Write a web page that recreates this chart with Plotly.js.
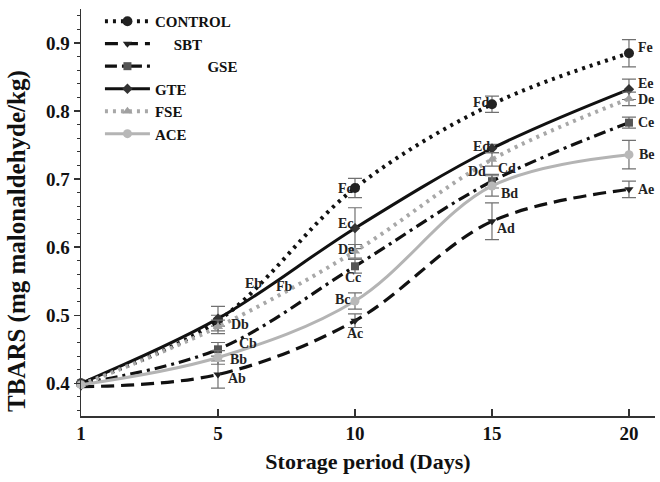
<!DOCTYPE html>
<html><head><meta charset="utf-8">
<script src="https://cdn.plot.ly/plotly-3.0.1.min.js"></script>
<style>html,body{margin:0;padding:0;background:#fff}#chart{width:660px;height:482px}</style>
</head><body><div id="chart"></div>
<script>
// Data
const days = ['1', '5', '10', '15', '20'];
const seriesNames = ['CONTROL', 'SBT', 'GSE', 'GTE', 'FSE', 'ACE'];
const control = [0.400, 0.492, 0.687, 0.810, 0.885];
const controlErr = [0, 0.008, 0.014, 0.012, 0.020];
const sbt = [0.395, 0.413, 0.492, 0.638, 0.685];
const sbtErr = [0, 0.020, 0.010, 0.027, 0.012];
const gse = [0.400, 0.450, 0.572, 0.697, 0.783];
const gseErr = [0, 0.010, 0.010, 0.010, 0.008];
const gte = [0.400, 0.495, 0.628, 0.745, 0.832];
const gteErr = [0, 0.018, 0.030, 0.006, 0.015];
const fse = [0.398, 0.483, 0.594, 0.729, 0.818];
const fseErr = [0, 0.010, 0.010, 0.010, 0.010];
const ace = [0.398, 0.438, 0.521, 0.690, 0.736];
const aceErr = [0, 0.010, 0.012, 0.015, 0.021];
// significance letters
const controlLetters = ['', 'Fb', 'Fc', 'Fd', 'Fe'];
const sbtLetters = ['', 'Ab', 'Ac', 'Ad', 'Ae'];
const gseLetters = ['', 'Cb', 'Cc', 'Cd', 'Ce'];
const gteLetters = ['', 'Eb', 'Ec', 'Ed', 'Ee'];
const fseLetters = ['', 'Db', 'De', 'Dd', 'De'];
const aceLetters = ['', 'Bb', 'Bc', 'Bd', 'Be'];
const xTitle = 'Storage period (Days)';
const yTitle = 'TBARS (mg malonaldehyde/kg)';

const FONT = 'Liberation Serif, Times New Roman, serif';
const errStyle = {type: 'data', visible: true, color: '#707070', thickness: 1.2, width: 7};

function tr(name, y, err, dash, color, width, symbol, mcolor, msize) {
  return {
    type: 'scatter', mode: 'lines+markers', name: name, x: days, y: y,
    error_y: Object.assign({array: err}, errStyle),
    line: {shape: 'spline', smoothing: 1, dash: dash, color: color, width: width},
    marker: {symbol: symbol, color: mcolor, size: msize},
    cliponaxis: false
  };
}
const nb = '\u00a0';
const data = [
  tr(seriesNames[0], control, controlErr, '3px,5px', '#111', 4, 'circle', '#222', 10),
  tr(nb.repeat(5) + seriesNames[1], sbt, sbtErr, '13px,7px', '#111', 3.2, 'triangle-down', '#222', 8),
  tr(nb.repeat(14) + seriesNames[2], gse, gseErr, '12px,5px,3px,5px', '#111', 3.2, 'square', '#555', 8),
  tr(seriesNames[3], gte, gteErr, 'solid', '#111', 3, 'diamond', '#333', 8),
  tr(seriesNames[4], fse, fseErr, '3px,5px', '#a8a8a8', 4, 'triangle-up', '#a0a0a0', 9),
  tr(seriesNames[5], ace, aceErr, 'solid', '#b4b4b4', 3, 'circle', '#b8b8b8', 9)
];

// letter label placements (x = category index, y = value)
const labelPos = {
  control: [null, [1.41, 0.542], [1.86, 0.687], [2.85, 0.812], [4.05, 0.893]],
  sbt:     [null, [1.06, 0.407], [1.93, 0.473], [3.02, 0.628], [4.05, 0.685]],
  gse:     [null, [1.14, 0.458], [1.91, 0.555], [3.03, 0.716], [4.05, 0.783]],
  gte:     [null, [1.18, 0.546], [1.86, 0.635], [2.85, 0.748], [4.05, 0.840]],
  fse:     [null, [1.08, 0.486], [1.86, 0.597], [2.81, 0.711], [4.05, 0.817]],
  ace:     [null, [1.07, 0.435], [1.84, 0.523], [3.05, 0.679], [4.06, 0.736]]
};
const letterSets = {control: controlLetters, sbt: sbtLetters, gse: gseLetters,
                    gte: gteLetters, fse: fseLetters, ace: aceLetters};
const annotations = [];
Object.keys(letterSets).forEach(k => {
  letterSets[k].forEach((t, i) => {
    if (!t) return;
    const p = labelPos[k][i];
    annotations.push({x: p[0], y: p[1], xref: 'x', yref: 'y', text: t, showarrow: false,
      xanchor: 'left', yanchor: 'middle',
      font: {family: FONT, size: 14, color: '#222', weight: 'bold'}});
  });
});
// y axis title (placed as an annotation to match the reference's offset)
annotations.push({xref: 'paper', yref: 'paper', x: -0.1115, y: 0.43, text: yTitle,
  textangle: -90, showarrow: false, xanchor: 'center', yanchor: 'middle',
  font: {family: FONT, size: 25, color: '#111', weight: 'bold'}});

const layout = {
  width: 660, height: 482,
  margin: {l: 81, r: 5, t: 7, b: 66},
  paper_bgcolor: '#fff', plot_bgcolor: '#fff',
  font: {family: FONT, color: '#111'},
  showlegend: true,
  legend: {x: 0.033, y: 1.01, xanchor: 'left', yanchor: 'top', bgcolor: 'rgba(0,0,0,0)',
    font: {family: FONT, size: 15, color: '#111', weight: 'bold'}, itemwidth: 45,
    tracegroupgap: 0},
  xaxis: {
    type: 'category', categoryorder: 'array', categoryarray: days,
    range: [0, 4.19], showline: true, linecolor: '#333', linewidth: 1.5,
    ticks: 'inside', ticklen: 7, tickcolor: '#333', tickwidth: 1.5,
    showgrid: false, zeroline: false,
    tickfont: {family: FONT, size: 19, color: '#111', weight: 'bold'},
    title: {text: xTitle, standoff: 10,
      font: {family: FONT, size: 22, color: '#111', weight: 'bold'}}
  },
  yaxis: {
    range: [0.352, 0.95], dtick: 0.1, tick0: 0, tickformat: '.1f',
    showline: true, linecolor: '#333', linewidth: 1.5,
    ticks: 'outside', ticklen: 6, tickcolor: '#333', tickwidth: 1.5,
    minor: {dtick: 0.02, ticks: 'outside', ticklen: 3, tickcolor: '#333', tickwidth: 1},
    showgrid: false, zeroline: false,
    tickfont: {family: FONT, size: 19, color: '#111', weight: 'bold'}
  },
  annotations: annotations
};
Plotly.newPlot('chart', data, layout, {displayModeBar: false, staticPlot: true});
</script></body></html>
